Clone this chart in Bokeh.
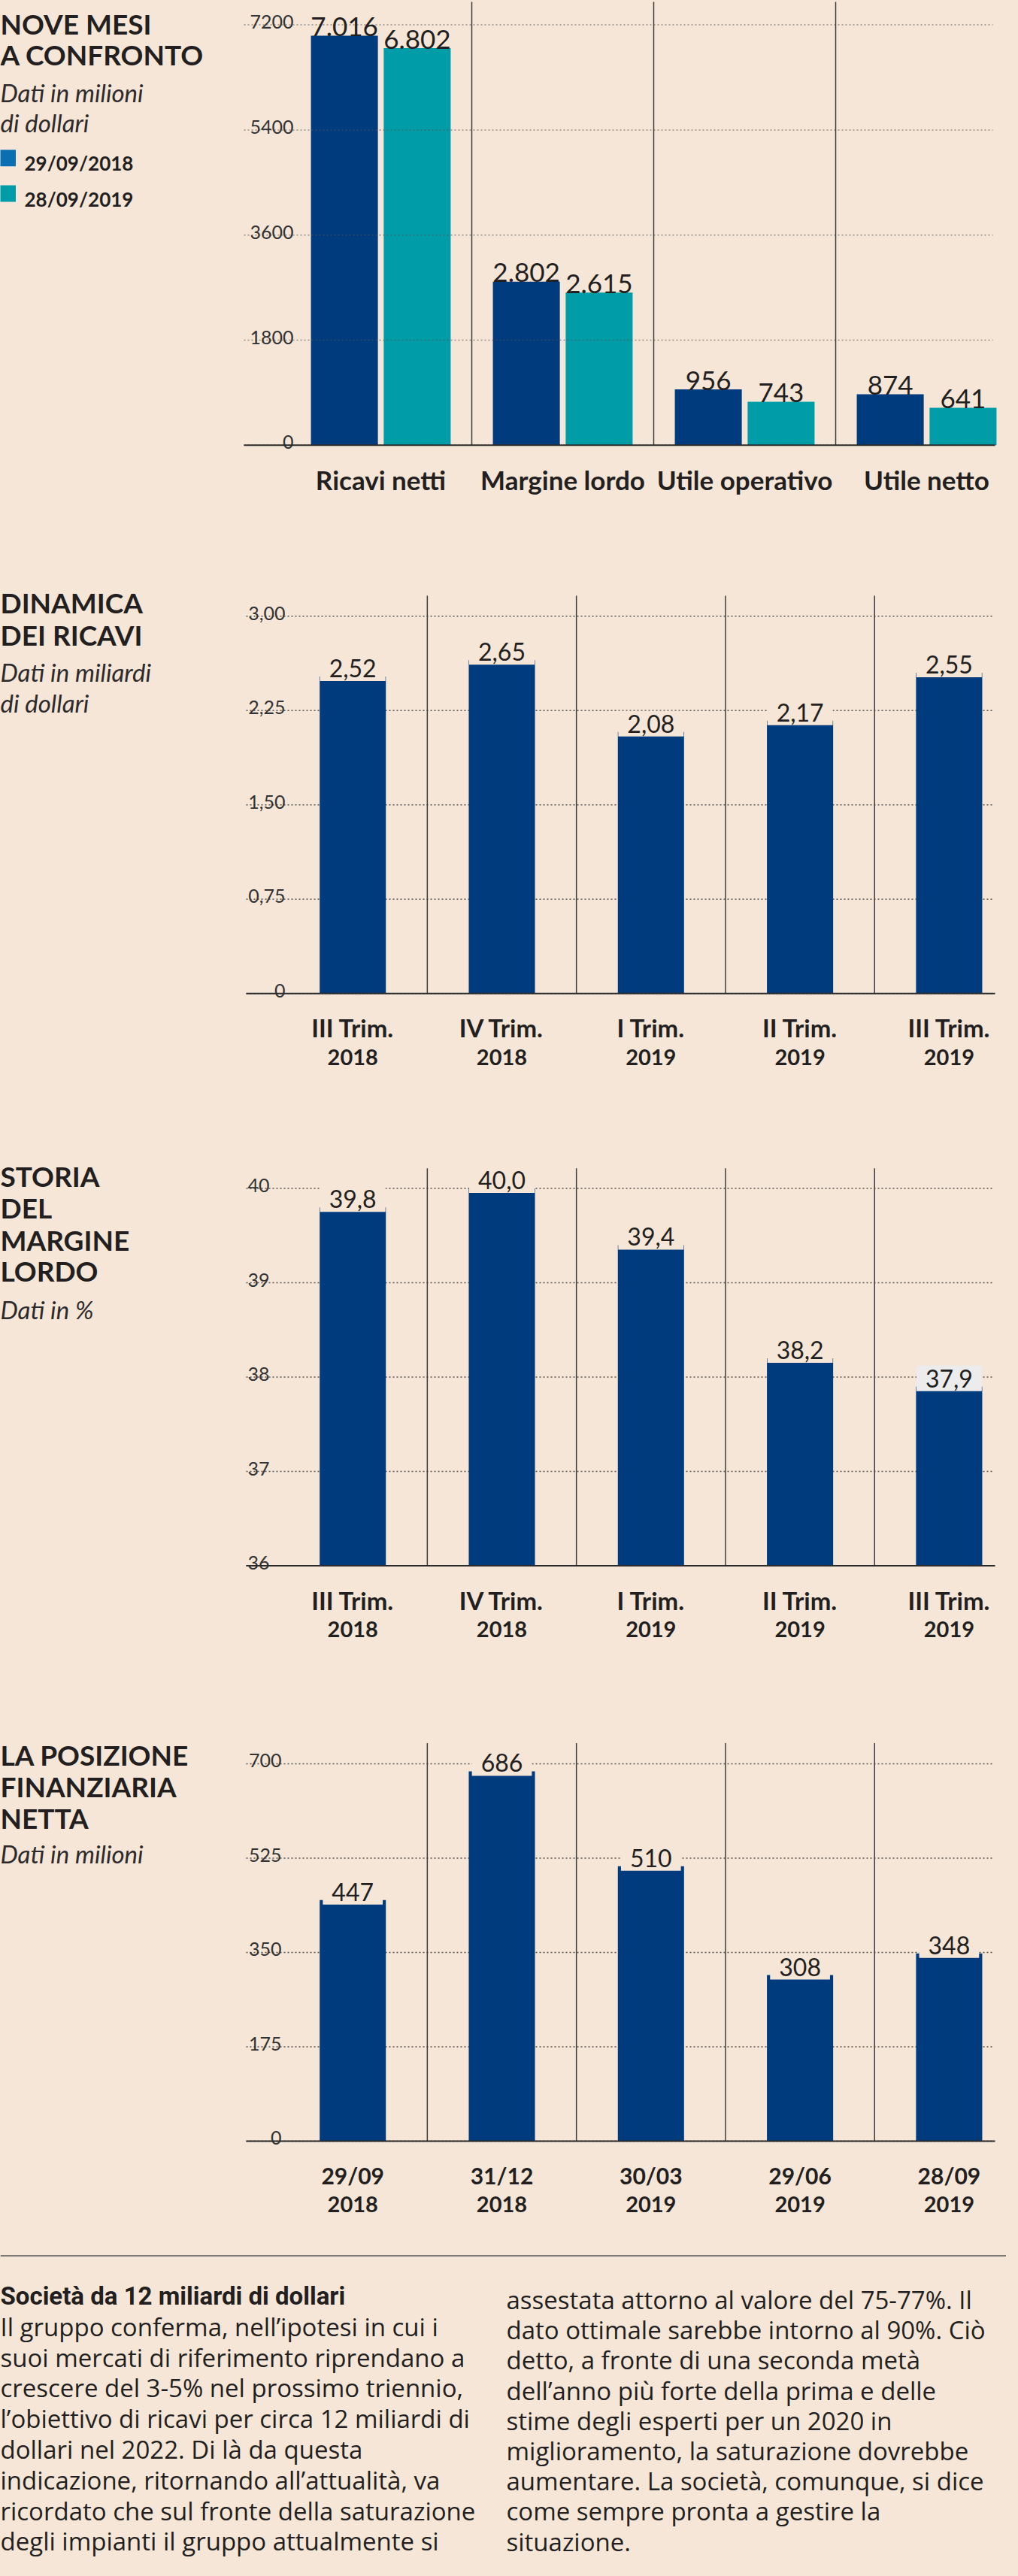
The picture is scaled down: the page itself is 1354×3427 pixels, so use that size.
import numpy as np
from bokeh.plotting import figure
from bokeh.layouts import column
from bokeh.models import Range1d, GlobalInlineStyleSheet
from bokeh.core.properties import value
from bokeh.embed import file_html
from bokeh.resources import INLINE

# ---- data -------------------------------------------------------------
cats1 = ["Ricavi netti", "Margine lordo", "Utile operativo", "Utile netto"]
vals_2018 = [7016, 2802, 956, 874]
vals_2019 = [6802, 2615, 743, 641]
series_names = ["29/09/2018", "28/09/2019"]
ticks1 = [0, 1800, 3600, 5400, 7200]
tick_text1 = ["0", "1800", "3600", "5400", "7200"]

quarters = ["III Trim.", "IV Trim.", "I Trim.", "II Trim.", "III Trim."]
quarter_years = ["2018", "2018", "2019", "2019", "2019"]
ricavi = [2.52, 2.65, 2.08, 2.17, 2.55]
ticks2 = [0, 0.75, 1.5, 2.25, 3.0]
tick_text2 = ["0", "0,75", "1,50", "2,25", "3,00"]

margine = [39.8, 40.0, 39.4, 38.2, 37.9]
ticks3 = [36, 37, 38, 39, 40]
tick_text3 = ["36", "37", "38", "39", "40"]

pfn_dates = ["29/09", "31/12", "30/03", "29/06", "28/09"]
pfn_years = ["2018", "2018", "2019", "2019", "2019"]
pfn = [447, 686, 510, 308, 348]
ticks4 = [0, 175, 350, 525, 700]
tick_text4 = ["0", "175", "350", "525", "700"]

note_title = "Società da 12 miliardi di dollari"
note_left = [
    "Il gruppo conferma, nell’ipotesi in cui i",
    "suoi mercati di riferimento riprendano a",
    "crescere del 3-5% nel prossimo triennio,",
    "l’obiettivo di ricavi per circa 12 miliardi di",
    "dollari nel 2022. Di là da questa",
    "indicazione, ritornando all’attualità, va",
    "ricordato che sul fronte della saturazione",
    "degli impianti il gruppo attualmente si",
]
note_right = [
    "assestata attorno al valore del 75-77%. Il",
    "dato ottimale sarebbe intorno al 90%.  Ciò",
    "detto, a fronte di una seconda metà",
    "dell’anno più forte della prima e delle",
    "stime degli esperti per un 2020 in",
    "miglioramento, la saturazione dovrebbe",
    "aumentare. La società, comunque, si dice",
    "come sempre pronta a gestire la",
    "situazione.",
]

# ---- style ------------------------------------------------------------
BG = "#f5e6d7"
INK = "#231f20"
NAVY = "#003b7d"
TEAL = "#009ca7"
LEG_BLUE = "#0a6fb1"
GRID = "#555555"
W = 1338


def make_fig(top, height, cx0, xu, base_px, base_val, ppv):
    # frame covers the whole figure; x in category units, y in data units
    x0 = (8 - cx0) / xu
    y1 = base_val + (base_px - top) / ppv
    p = figure(width=W, height=height,
               x_range=Range1d(x0, x0 + W / xu),
               y_range=Range1d(y1 - height / ppv, y1),
               x_axis_type=None, y_axis_type=None, tools="",
               toolbar_location=None, output_backend="svg",
               min_border=0, outline_line_color=None,
               background_fill_color=BG, border_fill_color=BG)
    X = lambda px: x0 + (px - 8) / xu
    Y = lambda py: y1 - (py - top) / ppv
    return p, X, Y


def write(p, xs, ys, texts, size, style="normal", font="Lato", align="left",
          color=INK, **kw):
    return p.text(x=list(xs), y=list(ys), text=list(texts), text_font=value(font),
                  text_font_size=f"{size}px", text_font_style=style,
                  text_align=align, text_baseline="alphabetic",
                  text_color=color, **kw)


def decor(p, X, Y, ppv, n, ticks, tick_text, tick_right, sep_top, base_val,
          left_px, alpha=1.0):
    k = len(ticks)
    p.segment(x0=[X(left_px)] * k, x1=[X(1328)] * k, y0=ticks, y1=ticks,
              line_color=GRID, line_width=1.5, line_dash="2 3", line_alpha=alpha)
    write(p, [X(tick_right)] * k, [t + 4 / ppv for t in ticks], tick_text, 25,
          align="right", color="#333333")
    seps = np.arange(n - 1) + 0.5
    p.segment(x0=seps, x1=seps, y0=[base_val] * (n - 1), y1=[Y(sep_top)] * (n - 1),
              line_color="#3c3c3c", line_width=1.5)


def baseline(p, X, base_val, left_px):
    p.segment(x0=[X(left_px)], x1=[X(1331)], y0=[base_val], y1=[base_val],
              line_color="#2b2b2b", line_width=2)


def titles(p, X, Y, title, title_y, subtitle, subtitle_y):
    write(p, [X(8)] * len(title), [Y(t) for t in title_y], title, 37, style="bold")
    write(p, [X(8)] * len(subtitle), [Y(t) for t in subtitle_y], subtitle, 33,
          style="italic", color="#2e2a2b")


# ---- chart 1: nove mesi a confronto -----------------------------------
ppv1 = 139.8 / 1800
f1, X1, Y1 = make_fig(8, 692, 514, 242, 599.8, 0, ppv1)
xs1 = np.arange(len(cats1))
f1.vbar(x=xs1 - 0.2, top=vals_2018, width=0.368, fill_color=NAVY, line_color=None)
f1.vbar(x=xs1 + 0.2, top=vals_2019, width=0.368, fill_color=TEAL, line_color=None)
decor(f1, X1, Y1, ppv1, len(cats1), ticks1, tick_text1, 398, 10, 0, 332, alpha=0.6)
baseline(f1, X1, 0, 332)
fmt_k = lambda v: f"{v:,}".replace(",", ".")
write(f1, xs1 - 0.2, [v + 12 / ppv1 for v in vals_2018], [fmt_k(v) for v in vals_2018],
      35, align="center")
write(f1, xs1 + 0.2, [v + 12 / ppv1 for v in vals_2019], [fmt_k(v) for v in vals_2019],
      35, align="center")
write(f1, xs1, [Y1(645)] * len(cats1), cats1, 35, style="bold", align="center")
titles(f1, X1, Y1, ["NOVE MESI", "A CONFRONTO"], [39, 80],
       ["Dati in milioni", "di dollari"], [130.6, 170])

# legend: coloured squares + dates
f1.rect(x=[X1(17.5)] * 2, y=[Y1(217.7), Y1(265)], width=22, height=22,
        width_units="screen", height_units="screen",
        fill_color=[LEG_BLUE, TEAL], line_color=None)
write(f1, [X1(40)] * 2, [Y1(224.5), Y1(272)], series_names, 26, style="bold")


# ---- charts 2-4: one bar per period -----------------------------------
def single_chart(top, height, base_px, base_val, ppv, sep_top, vals, val_text,
                 ticks, tick_text, tick_right, line1, line1_size, line2,
                 title, title_y, subtitle, subtitle_y, highlight=None):
    p, X, Y = make_fig(top, height, 476.7, 198.3, base_px, base_val, ppv)
    xs = np.arange(len(vals))
    decor(p, X, Y, ppv, len(vals), ticks, tick_text, tick_right, sep_top, base_val, 335)
    p.vbar(x=xs, bottom=base_val, top=vals, width=0.444, fill_color=NAVY, line_color=None)
    baseline(p, X, base_val, 335)
    ly = [v + 11 / ppv for v in vals]
    for i in range(len(vals)):
        bg = "#ececec" if i == highlight else BG
        write(p, [xs[i]], [ly[i]], [val_text[i]], 32, align="center",
              background_fill_color=bg,
              padding=dict(left=12, right=12, top=5, bottom=5))
    write(p, xs, [Y(base_px + 45.5)] * len(xs), line1, line1_size, style="bold",
          align="center")
    write(p, xs, [Y(base_px + 84.5)] * len(xs), line2, 29, style="bold", align="center")
    titles(p, X, Y, title, title_y, subtitle, subtitle_y)
    return p


f2 = single_chart(700, 770, 1329.3, 0, 125.5 / 0.75, 800, ricavi,
                  [f"{v:.2f}".replace(".", ",") for v in ricavi],
                  ticks2, tick_text2, 387, quarters, 33, quarter_years,
                  ["DINAMICA", "DEI RICAVI"], [809, 851.5],
                  ["Dati in miliardi", "di dollari"], [901, 942])

f3 = single_chart(1470, 770, 2090.6, 36, 125.5, 1561.7, margine,
                  [f"{v:.1f}".replace(".", ",") for v in margine],
                  ticks3, tick_text3, 366, quarters, 33, quarter_years,
                  ["STORIA", "DEL", "MARGINE", "LORDO"], [1572.4, 1614, 1656.6, 1698.4],
                  ["Dati in %"], [1749.4], highlight=4)

f4 = single_chart(2240, 750, 2855.9, 0, 125.5 / 175, 2326.6, pfn,
                  [str(v) for v in pfn],
                  ticks4, tick_text4, 382, pfn_dates, 30, pfn_years,
                  ["LA POSIZIONE", "FINANZIARIA", "NETTA"], [2342, 2384, 2425.5],
                  ["Dati in milioni"], [2473])

# ---- text box -----------------------------------------------------------
H5 = 426
f5 = figure(width=W, height=H5, x_range=Range1d(0, W), y_range=Range1d(H5, 0),
            x_axis_type=None, y_axis_type=None, tools="", toolbar_location=None,
            output_backend="svg", min_border=0, outline_line_color=None,
            background_fill_color=BG, border_fill_color=BG)
f5.segment(x0=[0], x1=[W], y0=[18.6], y1=[18.6], line_color="#555555", line_width=1.5)
write(f5, [0], [72], [note_title], 33, style="bold", font="Roboto")
write(f5, [0] * len(note_left), [72 + 40.8 * (i + 1) for i in range(len(note_left))],
      note_left, 33, font="Open Sans")
write(f5, [673] * len(note_right), [77 + 40.2 * i for i in range(len(note_right))],
      note_right, 33, font="Open Sans")

p = column(f1, f2, f3, f4, f5, spacing=0,
           stylesheets=[GlobalInlineStyleSheet(css="body { background: #f5e6d7; }")])

open("out.html", "w").write(file_html(p, INLINE))
